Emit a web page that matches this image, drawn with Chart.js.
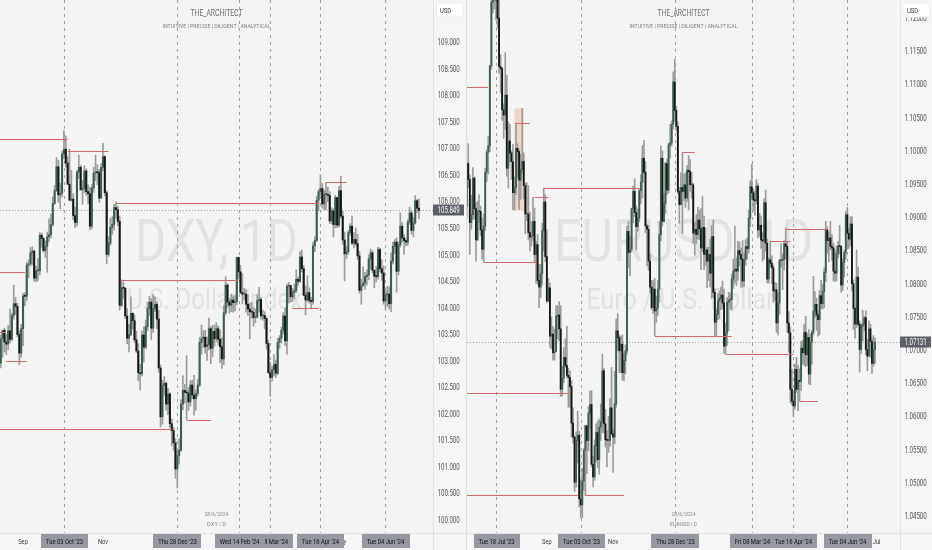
<!DOCTYPE html>
<html><head><meta charset="utf-8">
<script src="https://cdn.jsdelivr.net/npm/chart.js@4.4.1/dist/chart.umd.min.js"></script>
<style>
html,body{margin:0;padding:0;background:#f4f4f4;overflow:hidden}
#wrap{position:relative;width:932px;height:550px}
canvas{position:absolute;top:0}
#c1{left:0}#c2{left:466px}
</style></head><body>
<div id="wrap"><canvas id="c1" width="466" height="550" style="width:466px;height:550px"></canvas><canvas id="c2" width="466" height="550" style="width:466px;height:550px"></canvas></div>
<script>
// ===== DXY daily (first bar 2023-08-16) =====
const dxyStart = '2023-08-16';
const dxyOpen = [102.97,103.43,103.59,
103.37,103.33,103.58,103.42,103.87, 104.09,104.04,103.51,103.16,103.62, 104.24,104.23,104.82,104.84,105.05,
105.08,104.57,104.71,104.71,105.38, 105.32,105.09,105.17,105.35,105.39, 105.58,105.98,106.22,106.67,106.14,
106.17,106.91,107.00,106.74,106.34, 106.04,106.06,105.75,105.62,106.57, 106.66,106.24,106.26,106.59,106.20,
106.16,105.55,106.27,106.55,106.57, 106.56,106.08,106.66,106.86,106.18, 105.02,105.23,105.53,105.58,105.90,
105.86,105.64,104.06,104.39,104.38, 103.86,103.44,103.51,103.91,103.77, 103.41,103.20,102.79,102.77,103.50,
103.27,103.66,104.00,104.12,103.63, 104.00,104.08,103.80,102.88,101.96, 102.55,102.59,102.20,102.39,101.83,
101.70,101.47,100.98,101.23, 101.33,102.20,102.46,102.42,
102.41,102.24,102.56,102.37,102.30, 102.40,102.56,103.36,103.43,103.46, 103.28,103.32,103.62,103.25,103.57,
103.43,103.62,103.42,103.28,103.05, 103.92,104.44,104.12,104.06,104.16, 104.11,104.13,104.96,104.69,104.30,
104.27,104.27,104.08,103.99,103.94, 103.93,103.83,103.84,104.15,104.17, 103.86,103.87,103.81,103.34,102.79,
102.70,102.85,102.95,102.78,103.36, 103.44,103.59,103.86,103.39,104.42, 104.43,104.22,104.31,104.34,104.55,
104.51,104.97,104.75,104.25,104.16, 104.30,104.15,104.13,105.18,105.28, 106.04,106.20,106.26,105.97,106.15,
106.15,106.13,105.65,105.84,105.58, 106.09,105.57,106.22,105.74,105.29, 105.03,105.07,105.43,105.55,105.23,
105.30,105.22,104.99,104.34,104.43, 104.48,104.60,104.63,104.93,105.05, 104.72,104.61,104.60,105.11,104.75,
104.67,104.14,104.26,104.27,104.09, 104.89,105.17,105.25,104.70,105.20, 105.55,105.33,105.28,105.25,105.63,
105.80,105.47,105.61,106.03,105.89];
const dxyHigh = [103.50,103.59,103.63,
103.51,103.68,103.99,103.91,104.44, 104.21,104.10,103.58,103.70,104.29, 104.30,104.87,104.92,105.15,105.16,
105.10,104.80,104.94,105.43,105.42, 105.34,105.28,105.44,105.69,105.78, 106.10,106.32,106.84,106.79,106.36,
106.96,107.35,107.25,106.86,107.00, 106.60,106.16,105.91,106.60,106.89, 106.70,106.41,106.69,106.63,106.33,
106.28,106.33,106.66,106.89,106.71, 106.62,106.73,107.11,106.88,106.22, 105.35,105.70,105.73,105.96,106.01,
105.93,105.74,104.54,104.50,104.40, 104.00,103.70,104.22,103.92,103.88, 103.57,103.34,102.95,103.58,103.65,
103.78,104.12,104.23,104.19,104.26, 104.22,104.13,103.97,102.94,102.65, 102.72,102.62,102.49,102.41,101.92,
101.76,101.55,101.33,101.55, 102.28,102.73,102.57,103.11,
102.51,102.64,102.65,102.74,102.47, 102.67,103.46,103.69,103.58,103.59, 103.46,103.82,103.66,103.68,103.69,
103.73,103.67,103.60,103.45,104.06, 104.60,104.47,104.19,104.27,104.24, 104.24,104.97,104.97,104.81,104.66,
104.38,104.35,104.26,104.10,104.12, 104.02,103.99,104.26,104.40,104.21, 103.97,103.94,103.84,103.40,102.98,
102.91,103.13,103.03,103.44,103.49, 103.65,103.92,104.01,104.46,104.49, 104.44,104.38,104.46,104.73,104.59,
105.07,105.10,104.81,104.42,104.62, 104.39,104.21,105.24,105.35,106.11, 106.24,106.52,106.36,106.23,106.37,
106.28,106.20,105.90,105.88,106.13, 106.09,106.30,106.49,105.83,105.44, 105.17,105.47,105.60,105.74,105.43,
105.52,105.40,105.08,104.55,104.78, 104.68,104.73,105.01,105.12,105.09, 104.73,104.79,105.15,105.14,104.92,
104.80,104.34,104.42,104.41,105.05, 105.25,105.30,105.33,105.25,105.80, 105.62,105.39,105.31,105.67,105.91,
105.85,105.72,106.13,106.05,106.06];
const dxyLow = [102.88,103.08,103.18,
103.13,103.23,103.35,103.40,103.80, 103.89,103.47,102.94,103.08,103.30, 104.05,104.15,104.58,104.80,104.82,
104.51,104.50,104.52,104.63,105.15, 105.06,104.96,104.68,105.26,105.33, 105.55,105.96,106.20,106.00,105.88,
106.10,106.82,106.66,106.34,106.03, 106.02,105.67,105.52,105.55,106.45, 106.22,105.96,106.18,106.13,105.97,
105.48,105.50,106.19,106.41,106.33, 106.00,106.07,106.59,106.12,104.84, 104.98,105.19,105.40,105.48,105.70,
105.56,103.97,104.03,104.19,103.81, 103.34,103.18,103.49,103.61,103.36, 103.17,102.64,102.46,102.73,102.99,
103.24,103.58,103.86,103.41,103.55, 103.94,103.62,102.80,101.77,101.82, 102.36,102.08,102.00,101.76,101.42,
101.33,100.80,100.62,101.07, 101.31,102.09,102.22,101.91,
102.08,102.16,102.30,101.99,102.08, 102.35,102.53,103.14,103.26,103.16, 103.02,103.22,102.96,103.09,103.29,
103.37,103.31,102.98,102.87,102.94, 103.88,104.02,103.91,103.94,103.93, 103.95,104.07,104.56,104.28,104.09,
104.16,103.93,103.87,103.43,103.81, 103.67,103.73,103.82,103.93,103.80, 103.78,103.62,103.23,102.78,102.35,
102.63,102.73,102.70,102.75,103.25, 103.35,103.52,103.30,103.14,104.10, 104.12,104.13,104.18,104.30,104.44,
104.49,104.69,104.24,103.88,104.13, 104.10,103.99,104.08,105.07,105.26, 105.84,106.13,105.89,105.86,105.86,
106.01,105.60,105.60,105.35,105.52, 105.52,105.54,105.70,105.21,104.52, 104.94,105.02,105.38,105.20,105.14,
105.18,104.92,104.29,104.08,104.42, 104.36,104.44,104.54,104.74,104.67, 104.39,104.50,104.55,104.70,104.53,
104.08,103.99,104.04,103.99,103.94, 104.84,105.03,104.31,104.63,105.16, 105.25,105.02,105.18,105.19,105.58,
105.40,105.35,105.59,105.81,105.69];
const dxyClose = [103.43,103.59,103.37,
103.33,103.58,103.42,103.87,104.09, 104.04,103.51,103.16,103.62,104.24, 104.23,104.82,104.84,105.05,105.08,
104.57,104.71,104.71,105.38,105.32, 105.09,105.17,105.35,105.39,105.58, 105.98,106.22,106.67,106.14,106.17,
106.91,107.00,106.74,106.34,106.04, 106.06,105.75,105.62,106.57,106.66, 106.24,106.26,106.59,106.20,106.16,
105.55,106.27,106.55,106.57,106.56, 106.08,106.66,106.86,106.18,105.02, 105.23,105.53,105.58,105.90,105.86,
105.64,104.06,104.39,104.38,103.86, 103.44,103.51,103.91,103.77,103.41, 103.20,102.79,102.77,103.50,103.27,
103.66,104.00,104.12,103.63,104.00, 104.08,103.80,102.88,101.96,102.55, 102.59,102.20,102.39,101.83,101.70,
101.47,100.98,101.23,101.33, 102.20,102.46,102.42,102.41,
102.24,102.56,102.37,102.30,102.40, 102.56,103.36,103.43,103.46,103.28, 103.32,103.62,103.25,103.57,103.43,
103.62,103.42,103.28,103.05,103.92, 104.44,104.12,104.06,104.16,104.11, 104.13,104.96,104.69,104.30,104.27,
104.27,104.08,103.99,103.94,103.93, 103.83,103.84,104.15,104.17,103.86, 103.87,103.81,103.34,102.79,102.70,
102.85,102.95,102.78,103.36,103.44, 103.59,103.86,103.39,104.42,104.43, 104.22,104.31,104.34,104.55,104.51,
104.97,104.75,104.25,104.16,104.30, 104.15,104.13,105.18,105.28,106.04, 106.20,106.26,105.97,106.15,106.15,
106.13,105.65,105.84,105.58,106.09, 105.57,106.22,105.74,105.29,105.03, 105.07,105.43,105.55,105.23,105.30,
105.22,104.99,104.34,104.43,104.48, 104.60,104.63,104.93,105.05,104.72, 104.61,104.60,105.11,104.75,104.67,
104.14,104.26,104.27,104.09,104.89, 105.17,105.25,104.70,105.20,105.55, 105.33,105.28,105.25,105.63,105.80,
105.47,105.61,106.03,105.89,105.849];
const dxyTicks = [100.0,100.5,101.0,101.5,102.0,102.5,103.0,103.5,104.0,104.5,105.0,105.5,106.0,106.5,107.0,107.5,108.0,108.5,109.0];
const dxyLevels = [[null,'2023-10-05',107.19],['2023-10-05','2023-11-06',106.97],['2023-11-10','2024-04-15',105.99],
['2024-04-19','2024-05-06',106.38],[null,'2023-09-04',104.69],['2023-11-15','2024-02-14',104.54],['2023-08-21','2023-09-05',103.01],
[null,'2023-08-21',103.56],['2024-03-26','2024-04-15',104.00],[null,'2023-12-22',101.73],['2024-01-05','2024-01-24',101.90]];
const dxyMarkers = [['2023-10-03',"Tue 03 Oct '23"],['2023-12-28',"Thu 28 Dec '23"],['2024-03-08',"Fri 08 Mar '24"],
['2024-02-14',"Wed 14 Feb '24"],['2024-04-16',"Tue 16 Apr '24"],['2024-06-04',"Tue 04 Jun '24"]];
const dxyMonths = [['2023-09-01','Sep'],['2023-11-01','Nov'],['2024-05-01','May']];

// ===== EURUSD daily (first bar 2023-06-21) =====
const eurStart = '2023-06-21';
const eurOpen = [1.0918,1.0982,1.0958,
1.0893,1.0905,1.0960,1.0914,1.0867, 1.0910,1.0910,1.0882,1.0853,1.0888, 1.0969,1.0999,1.1009,1.1129,1.1225,
1.1229,1.1236,1.1228,1.1201,1.1128, 1.1125,1.1063,1.1055,1.1085,1.0975, 1.1016,1.0998,1.0985,1.0938,1.0946,
1.1005,1.1000,1.0957,1.0973,1.0985, 1.0949,1.0906,1.0906,1.0878,1.0871, 1.0873,1.0895,1.0845,1.0860,1.0806,
1.0796,1.0816,1.0881,1.0924,1.0842, 1.0775,1.0795,1.0722,1.0725,1.0697, 1.0699,1.0752,1.0754,1.0733,1.0642,
1.0659,1.0690,1.0678,1.0663,1.0660, 1.0646,1.0591,1.0570,1.0502,1.0565, 1.0573,1.0477,1.0468,1.0504,1.0550,
1.0587,1.0565,1.0606,1.0619,1.0529, 1.0510,1.0557,1.0577,1.0536,1.0585, 1.0593,1.0670,1.0590,1.0566,1.0565,
1.0565,1.0614,1.0575,1.0570,1.0620, 1.0730,1.0720,1.0700,1.0710,1.0667, 1.0685,1.0700,1.0880,1.0848,1.0853,
1.0914,1.0940,1.0908,1.0887,1.0900, 1.0941,1.0954,1.0990,1.0969,1.0888, 1.0883,1.0835,1.0796,1.0765,1.0793,
1.0760,1.0764,1.0793,1.0875,1.0990, 1.0895,1.0922,1.0982,1.0942,1.1010, 1.1013,1.1041,1.1105,1.1062,
1.1038,1.0940,1.0920,1.0946, 1.0940,1.0950,1.0930,1.0972,1.0970, 1.0950,1.0950,1.0877,1.0883,1.0875,
1.0897,1.0884,1.0855,1.0886,1.0845, 1.0852,1.0835,1.0845,1.0817,1.0872, 1.0788,1.0743,1.0755,1.0775,1.0779,
1.0784,1.0772,1.0707,1.0727,1.0773, 1.0776,1.0777,1.0808,1.0820,1.0823, 1.0820,1.0851,1.0845,1.0838,1.0805,
1.0838,1.0857,1.0854,1.0900,1.0947, 1.0938,1.0927,1.0926,1.0948,1.0882, 1.0889,1.0867,1.0865,1.0923,1.0862,
1.0808,1.0837,1.0832,1.0825,1.0790, 1.0792,1.0742,1.0772,1.0836,1.0836, 1.0838,1.0861,1.0857,1.0742,1.0727,
1.0642,1.0624,1.0617,1.0672,1.0642, 1.0655,1.0654,1.0704,1.0697,1.0728, 1.0694,1.0720,1.0665,1.0713,1.0728,
1.0760,1.0770,1.0754,1.0747,1.0783, 1.0771,1.0789,1.0818,1.0882,1.0866, 1.0870,1.0857,1.0855,1.0820,1.0817,
1.0847,1.0858,1.0857,1.0799,1.0833, 1.0848,1.0905,1.0877,1.0868,1.0891, 1.0801,1.0764,1.0740,1.0811,1.0740,
1.0702,1.0737,1.0740,1.0750,1.0702, 1.0692,1.0733,1.0714,1.0681,1.0702];
const eurHigh = [1.0985,1.1012,1.0965,
1.0934,1.0976,1.0962,1.0923,1.0925, 1.0935,1.0918,1.0900,1.0906,1.0975, 1.1003,1.1023,1.1130,1.1228,1.1244,
1.1249,1.1276,1.1231,1.1245,1.1146, 1.1127,1.1072,1.1149,1.1115,1.1045, 1.1041,1.1001,1.1011,1.0962,1.1043,
1.1012,1.1003,1.0996,1.1065,1.0998, 1.0953,1.0953,1.0949,1.0909,1.0894, 1.0931,1.0915,1.0865,1.0875,1.0830,
1.0830,1.0892,1.0945,1.0935,1.0882, 1.0809,1.0802,1.0751,1.0737,1.0733, 1.0768,1.0768,1.0774,1.0768,1.0677,
1.0705,1.0718,1.0737,1.0674,1.0670, 1.0655,1.0614,1.0572,1.0578,1.0609, 1.0579,1.0506,1.0523,1.0553,1.0588,
1.0588,1.0616,1.0639,1.0640,1.0541, 1.0566,1.0590,1.0594,1.0597,1.0620, 1.0695,1.0674,1.0612,1.0580,1.0601,
1.0628,1.0675,1.0582,1.0669,1.0748, 1.0756,1.0724,1.0722,1.0724,1.0696, 1.0709,1.0888,1.0895,1.0872,1.0915,
1.0948,1.0959,1.0918,1.0914,1.0944, 1.0965,1.1009,1.1017,1.0985,1.0891, 1.0889,1.0845,1.0806,1.0806,1.0809,
1.0782,1.0806,1.0895,1.1009,1.1001, 1.0937,1.0984,1.0989,1.1013,1.1041, 1.1046,1.1120,1.1139,1.1068,
1.1045,1.0946,1.0968,1.0998, 1.0966,1.0968,1.0979,1.0994,1.0988, 1.0969,1.0952,1.0893,1.0905,1.0916,
1.0912,1.0914,1.0933,1.0903,1.0885, 1.0856,1.0856,1.0868,1.0889,1.0897, 1.0793,1.0763,1.0786,1.0790,1.0796,
1.0805,1.0793,1.0741,1.0780,1.0788, 1.0787,1.0815,1.0838,1.0888,1.0840, 1.0865,1.0864,1.0855,1.0866,1.0848,
1.0867,1.0870,1.0912,1.0956,1.0981, 1.0944,1.0940,1.0958,1.0952,1.0907, 1.0903,1.0878,1.0929,1.0942,1.0868,
1.0840,1.0865,1.0843,1.0829,1.0803, 1.0802,1.0787,1.0838,1.0862,1.0846, 1.0866,1.0885,1.0865,1.0759,1.0736,
1.0672,1.0640,1.0680,1.0690,1.0678, 1.0673,1.0714,1.0716,1.0740,1.0752, 1.0726,1.0732,1.0725,1.0731,1.0812,
1.0789,1.0779,1.0760,1.0791,1.0806, 1.0800,1.0825,1.0895,1.0887,1.0879, 1.0895,1.0875,1.0862,1.0852,1.0858,
1.0865,1.0889,1.0859,1.0839,1.0852, 1.0910,1.0916,1.0884,1.0902,1.0902, 1.0807,1.0765,1.0852,1.0826,1.0745,
1.0741,1.0761,1.0752,1.0760,1.0717, 1.0745,1.0740,1.0719,1.0723,1.0719];
const eurLow = [1.0900,1.0945,1.0845,
1.0883,1.0898,1.0898,1.0835,1.0866, 1.0893,1.0873,1.0838,1.0833,1.0881, 1.0955,1.0966,1.1000,1.1124,1.1209,
1.1215,1.1198,1.1186,1.1118,1.1088, 1.1047,1.1020,1.1033,1.0963,1.0945, 1.0984,1.0958,1.0912,1.0912,1.0935,
1.0960,1.0913,1.0928,1.0968,1.0929, 1.0876,1.0896,1.0867,1.0850,1.0858, 1.0866,1.0834,1.0802,1.0800,1.0765,
1.0780,1.0800,1.0850,1.0834,1.0772, 1.0774,1.0705,1.0703,1.0686,1.0686, 1.0699,1.0718,1.0715,1.0631,1.0632,
1.0652,1.0675,1.0659,1.0615,1.0615, 1.0570,1.0561,1.0488,1.0495,1.0531, 1.0465,1.0448,1.0449,1.0490,1.0482,
1.0515,1.0549,1.0583,1.0525,1.0495, 1.0505,1.0533,1.0524,1.0514,1.0565, 1.0577,1.0576,1.0555,1.0525,1.0547,
1.0556,1.0573,1.0517,1.0560,1.0615, 1.0700,1.0667,1.0667,1.0656,1.0655, 1.0665,1.0695,1.0825,1.0813,1.0849,
1.0893,1.0902,1.0852,1.0880,1.0894, 1.0922,1.0930,1.0966,1.0878,1.0828, 1.0821,1.0787,1.0762,1.0756,1.0723,
1.0743,1.0753,1.0773,1.0866,1.0888, 1.0894,1.0907,1.0935,1.0938,1.0990, 1.1008,1.1034,1.1046,1.1031,
1.0937,1.0892,1.0920,1.0877, 1.0926,1.0916,1.0925,1.0912,1.0940, 1.0930,1.0862,1.0844,1.0862,1.0868,
1.0867,1.0822,1.0849,1.0822,1.0828, 1.0795,1.0806,1.0796,1.0779,1.0780, 1.0723,1.0722,1.0747,1.0748,1.0762,
1.0763,1.0696,1.0695,1.0709,1.0730, 1.0763,1.0761,1.0794,1.0802,1.0798, 1.0806,1.0828,1.0796,1.0796,1.0797,
1.0829,1.0838,1.0847,1.0887,1.0928, 1.0911,1.0904,1.0921,1.0870,1.0872, 1.0854,1.0835,1.0838,1.0850,1.0802,
1.0802,1.0826,1.0801,1.0773,1.0776, 1.0728,1.0724,1.0755,1.0826,1.0792, 1.0822,1.0838,1.0728,1.0698,1.0622,
1.0619,1.0601,1.0612,1.0637,1.0610, 1.0624,1.0640,1.0680,1.0678,1.0676, 1.0678,1.0650,1.0649,1.0680,1.0724,
1.0750,1.0731,1.0722,1.0724,1.0763, 1.0763,1.0765,1.0804,1.0847,1.0834, 1.0852,1.0836,1.0805,1.0805,1.0805,
1.0840,1.0845,1.0788,1.0791,1.0811, 1.0838,1.0853,1.0854,1.0858,1.0790, 1.0732,1.0719,1.0735,1.0738,1.0668,
1.0696,1.0715,1.0730,1.0694,1.0670, 1.0692,1.0690,1.0666,1.0677,1.0681];
const eurClose = [1.0982,1.0958,1.0893,
1.0905,1.0960,1.0914,1.0867,1.0910, 1.0910,1.0882,1.0853,1.0888,1.0969, 1.0999,1.1009,1.1129,1.1225,1.1229,
1.1236,1.1228,1.1201,1.1128,1.1125, 1.1063,1.1055,1.1085,1.0975,1.1016, 1.0998,1.0985,1.0938,1.0946,1.1005,
1.1000,1.0957,1.0973,1.0985,1.0949, 1.0906,1.0906,1.0878,1.0871,1.0873, 1.0895,1.0845,1.0860,1.0806,1.0796,
1.0816,1.0881,1.0924,1.0842,1.0775, 1.0795,1.0722,1.0725,1.0697,1.0699, 1.0752,1.0754,1.0733,1.0642,1.0659,
1.0690,1.0678,1.0663,1.0660,1.0646, 1.0591,1.0570,1.0502,1.0565,1.0573, 1.0477,1.0468,1.0504,1.0550,1.0587,
1.0565,1.0606,1.0619,1.0529,1.0510, 1.0557,1.0577,1.0536,1.0585,1.0593, 1.0670,1.0590,1.0566,1.0565,1.0565,
1.0614,1.0575,1.0570,1.0620,1.0730, 1.0720,1.0700,1.0710,1.0667,1.0685, 1.0700,1.0880,1.0848,1.0853,1.0914,
1.0940,1.0908,1.0887,1.0900,1.0941, 1.0954,1.0990,1.0969,1.0888,1.0883, 1.0835,1.0796,1.0765,1.0793,1.0760,
1.0764,1.0793,1.0875,1.0990,1.0895, 1.0922,1.0982,1.0942,1.1010,1.1013, 1.1041,1.1105,1.1062,1.1038,
1.0940,1.0920,1.0946,1.0940, 1.0950,1.0930,1.0972,1.0970,1.0950, 1.0950,1.0877,1.0883,1.0875,1.0897,
1.0884,1.0855,1.0886,1.0845,1.0852, 1.0835,1.0845,1.0817,1.0872,1.0788, 1.0743,1.0755,1.0775,1.0779,1.0784,
1.0772,1.0707,1.0727,1.0773,1.0776, 1.0777,1.0808,1.0820,1.0823,1.0820, 1.0851,1.0845,1.0838,1.0805,1.0838,
1.0857,1.0854,1.0900,1.0947,1.0938, 1.0927,1.0926,1.0948,1.0882,1.0889, 1.0867,1.0865,1.0923,1.0862,1.0808,
1.0837,1.0832,1.0825,1.0790,1.0792, 1.0742,1.0772,1.0836,1.0836,1.0838, 1.0861,1.0857,1.0742,1.0727,1.0642,
1.0624,1.0617,1.0672,1.0642,1.0655, 1.0654,1.0704,1.0697,1.0728,1.0694, 1.0720,1.0665,1.0713,1.0728,1.0760,
1.0770,1.0754,1.0747,1.0783,1.0771, 1.0789,1.0818,1.0882,1.0866,1.0870, 1.0857,1.0855,1.0820,1.0817,1.0847,
1.0858,1.0857,1.0799,1.0833,1.0848, 1.0905,1.0877,1.0868,1.0891,1.0801, 1.0764,1.0740,1.0811,1.0740,1.0702,
1.0737,1.0740,1.0750,1.0702,1.0692, 1.0733,1.0714,1.0681,1.0702,1.07131];
const eurTicks = [1.045,1.050,1.055,1.060,1.065,1.070,1.075,1.080,1.085,1.090,1.095,1.100,1.105,1.110,1.115,1.120];
const eurLevels = [[null,'2023-07-11',1.1097],['2023-07-06','2023-08-23',1.0834],['2023-08-04','2023-08-17',1.1043],
['2023-08-22','2023-09-04',1.0932],['2023-08-30','2023-11-24',1.0945],['2024-01-05','2024-01-17',1.0999],
['2024-03-26','2024-04-12',1.0865],['2024-04-09','2024-05-15',1.0883],['2023-12-08','2024-02-20',1.0723],
['2024-02-14','2024-04-16',1.0695],[null,'2023-09-21',1.0636],[null,'2023-09-29',1.0483],
['2023-10-06','2023-11-10',1.0483],['2024-04-22','2024-05-08',1.0625]];
const eurZone = ['2023-08-03','2023-08-11',1.1065,1.0911];
const eurMarkers = [['2023-07-18',"Tue 18 Jul '23"],['2023-10-03',"Tue 03 Oct '23"],['2023-12-28',"Thu 28 Dec '23"],
['2024-03-08',"Fri 08 Mar '24"],['2024-04-16',"Tue 16 Apr '24"],['2024-06-04',"Tue 04 Jun '24"]];
const eurMonths = [['2023-09-01','Sep'],['2023-11-01','Nov'],['2024-07-01','Jul']];

// ===== helpers =====
function tradingDays(start, n) {
  const out = []; const d = new Date(start + 'T00:00:00Z');
  while (out.length < n) {
    const wd = d.getUTCDay(); const iso = d.toISOString().slice(0, 10); const md = iso.slice(5);
    if (wd !== 0 && wd !== 6 && md !== '12-25' && md !== '01-01') out.push(iso);
    d.setUTCDate(d.getUTCDate() + 1);
  }
  return out;
}
const FONT = 'Roboto, "Noto Sans", "DejaVu Sans", sans-serif';
function measure(ctx, s, o) {
  ctx.save(); ctx.font = `${o.weight || 400} ${o.size}px ${FONT}`;
  const w = ctx.measureText(s).width; ctx.restore();
  const sx = o.w ? o.w / w : (o.sx || 0.74);
  return {w: w * sx, sx};
}
function txt(ctx, s, x, y, o) {
  const m = measure(ctx, s, o);
  ctx.save();
  ctx.font = `${o.weight || 400} ${o.size}px ${FONT}`;
  ctx.fillStyle = o.color; ctx.textBaseline = o.base || 'middle'; ctx.textAlign = 'left';
  const left = o.align === 'left' ? x : (o.align === 'right' ? x - m.w : x - m.w / 2);
  ctx.translate(left, y); ctx.scale(m.sx, 1); ctx.fillText(s, 0, 0);
  ctx.restore();
  return m.w;
}

const BG = '#f4f4f4', AXBG = '#f6f6f6', SEP = '#e2e2e2';
const UP = '#3b5f4a', DOWN = '#161616', WICK = '#9b9b9b';

function makePanel(canvas, p) {
  const n = Math.min(p.open.length, p.high.length, p.low.length, p.close.length);
  const dates = tradingDays(p.start, n + 10);
  const idx = d => dates.indexOf(d);
  const ids = Array.from({length: n}, (_, i) => i);
  const last = p.close[n - 1];

  const plugin = {
    id: 'tvpanel',
    beforeDraw(chart) {
      const ctx = chart.ctx;
      ctx.save(); ctx.fillStyle = BG; ctx.fillRect(0, 0, chart.width, chart.height); ctx.restore();
    },
    beforeDatasetsDraw(chart) {
      const ctx = chart.ctx, ca = chart.chartArea, xS = chart.scales.x, yS = chart.scales.y;
      const cx = (ca.left + ca.right) / 2;
      // watermark
      txt(ctx, p.wm1, cx + p.wm1dx, 261, {size: 60, color: '#e1e2e6', w: p.wm1w, base: 'alphabetic'});
      txt(ctx, p.wm2, cx + p.wm2dx, 309, {size: 29, color: '#e1e2e6', w: p.wm2w, base: 'alphabetic'});
      // header / footer text
      txt(ctx, 'THE_ARCHITECT', cx, 15.5, {size: 9, color: '#6e6e6e', w: 52, base: 'alphabetic'});
      txt(ctx, 'INTUITIVE | PRECISE | DILIGENT | ANALYTICAL', cx, 27.5, {size: 6.2, color: '#7c7c7c', w: 108, base: 'alphabetic'});
      txt(ctx, '28/6/2024', cx, 515.5, {size: 6.2, color: '#8a8a8a', w: 24, base: 'alphabetic'});
      txt(ctx, p.foot, cx, 525.5, {size: 6.2, color: '#8a8a8a', w: p.footw, base: 'alphabetic'});
      ctx.save();
      ctx.beginPath(); ctx.rect(ca.left, ca.top, ca.right - ca.left, ca.bottom - ca.top); ctx.clip();
      // zone
      if (p.zone) {
        const x1 = xS.getPixelForValue(idx(p.zone[0])), x2 = xS.getPixelForValue(idx(p.zone[1]));
        const y1 = yS.getPixelForValue(p.zone[2]), y2 = yS.getPixelForValue(p.zone[3]);
        ctx.fillStyle = 'rgba(232,170,130,0.42)'; ctx.fillRect(x1, y1, x2 - x1, y2 - y1);
      }
      // vertical date markers
      ctx.strokeStyle = '#a3a3a3'; ctx.lineWidth = 1; ctx.setLineDash([3, 4]);
      p.markers.forEach(m => {
        const x = Math.round(xS.getPixelForValue(idx(m[0]))) + 0.5;
        ctx.beginPath(); ctx.moveTo(x, ca.top); ctx.lineTo(x, ca.bottom); ctx.stroke();
      });
      // last price line
      ctx.strokeStyle = '#a0a0a0'; ctx.setLineDash([1, 2]);
      const yl = Math.round(yS.getPixelForValue(last)) + 0.5;
      ctx.beginPath(); ctx.moveTo(ca.left, yl); ctx.lineTo(ca.right, yl); ctx.stroke();
      ctx.restore();
    },
    afterDatasetsDraw(chart) {
      const ctx = chart.ctx, ca = chart.chartArea, xS = chart.scales.x, yS = chart.scales.y;
      ctx.save();
      ctx.beginPath(); ctx.rect(ca.left, ca.top, ca.right - ca.left, ca.bottom - ca.top); ctx.clip();
      ctx.strokeStyle = '#d36a6a'; ctx.lineWidth = 1;
      p.levels.forEach(l => {
        const x1 = l[0] ? xS.getPixelForValue(idx(l[0])) : ca.left;
        const x2 = xS.getPixelForValue(idx(l[1]));
        const y = Math.round(yS.getPixelForValue(l[2])) + 0.5;
        ctx.beginPath(); ctx.moveTo(x1, y); ctx.lineTo(x2, y); ctx.stroke();
      });
      ctx.restore();
    },
    afterDraw(chart) {
      const ctx = chart.ctx, ca = chart.chartArea, xS = chart.scales.x, yS = chart.scales.y;
      const W = chart.width, H = chart.height;
      ctx.save();
      ctx.fillStyle = AXBG;
      ctx.fillRect(ca.right, 0, W - ca.right, H);
      ctx.fillRect(0, ca.bottom, ca.right, H - ca.bottom);
      ctx.strokeStyle = SEP; ctx.lineWidth = 1;
      ctx.beginPath(); ctx.moveTo(ca.right + 0.5, 0); ctx.lineTo(ca.right + 0.5, H); ctx.stroke();
      ctx.beginPath(); ctx.moveTo(0, ca.bottom + 0.5); ctx.lineTo(W, ca.bottom + 0.5); ctx.stroke();
      if (p.leftSep) {
        ctx.strokeStyle = '#dedede';
        ctx.beginPath(); ctx.moveTo(0.5, 0); ctx.lineTo(0.5, H); ctx.stroke();
      }
      ctx.restore();
      // y labels
      p.ticks.forEach(v => {
        const y = yS.getPixelForValue(v);
        txt(ctx, v.toFixed(p.dec), ca.right + 4.5, y, {size: 8.5, color: '#505050', sx: 0.72, align: 'left'});
      });
      // USD box
      ctx.save();
      ctx.fillStyle = '#ffffff'; ctx.strokeStyle = '#ececec';
      ctx.beginPath(); ctx.roundRect(ca.right + 3, 3, 27, 14, 2); ctx.fill(); ctx.stroke();
      ctx.restore();
      txt(ctx, 'USD', ca.right + 7, 10.5, {size: 8, color: '#333333', sx: 0.74, align: 'left'});
      // last price label
      const yl = Math.round(yS.getPixelForValue(last));
      ctx.save(); ctx.fillStyle = '#5e6068';
      ctx.fillRect(ca.right, yl - 5.5, 31, 11); ctx.restore();
      txt(ctx, last.toFixed(p.dec), ca.right + 4.5, yl + 0.5, {size: 8.5, color: '#ffffff', sx: 0.72, align: 'left'});
      // month labels
      p.months.forEach(m => {
        const x = xS.getPixelForValue(idx(m[0]));
        txt(ctx, m[1], x, 541.5, {size: 8, color: '#3a3a3a', sx: 0.72});
      });
      // date boxes
      p.markers.forEach(m => {
        const x = Math.round(xS.getPixelForValue(idx(m[0]))) + 0.5;
        const mm = measure(ctx, m[1], {size: 8, sx: 0.73});
        const bw = mm.w + 10;
        ctx.save(); ctx.fillStyle = '#9598a0';
        ctx.fillRect(Math.round(x - bw / 2), 534, Math.round(bw), 14); ctx.restore();
        txt(ctx, m[1], x, 541.5, {size: 8, color: '#111111', sx: 0.73});
      });
    }
  };

  return new Chart(canvas, {
    type: 'bar',
    data: {
      datasets: [
        {
          label: p.name + ' wick',
          data: ids.map(i => ({x: i, y: [p.low[i], p.high[i]]})),
          backgroundColor: WICK, borderWidth: 0, barThickness: p.wick, grouped: false, order: 2
        },
        {
          label: p.name + ' body',
          data: ids.map(i => ({x: i, y: [Math.min(p.open[i], p.close[i]), Math.max(p.open[i], p.close[i])]})),
          backgroundColor: ids.map(i => p.close[i] >= p.open[i] ? UP : DOWN),
          borderWidth: 0, barThickness: p.body, grouped: false, order: 1, minBarLength: 1
        }
      ]
    },
    options: {
      responsive: false, animation: false, devicePixelRatio: 1,
      layout: {padding: p.pad},
      plugins: {legend: {display: false}, tooltip: {enabled: false}},
      events: [],
      scales: {
        x: {type: 'linear', min: p.xmin, max: p.xmax, display: false, offset: false, grid: {display: false}},
        y: {type: 'linear', min: p.ymin, max: p.ymax, display: false, grid: {display: false}}
      }
    },
    plugins: [plugin]
  });
}

makePanel(document.getElementById('c1'), {
  name: 'DXY', start: dxyStart, open: dxyOpen, high: dxyHigh, low: dxyLow, close: dxyClose,
  ticks: dxyTicks, dec: 3, levels: dxyLevels, markers: dxyMarkers, months: dxyMonths, zone: null,
  wm1: 'DXY, 1D', wm1w: 163, wm1dx: 0, wm2: 'U.S. Dollar Index', wm2w: 175, wm2dx: -2,
  foot: 'DXY | D', footw: 19,
  pad: {left: 0, right: 33, top: 0, bottom: 17},
  xmin: -0.4, xmax: 232.57, ymin: 99.7721, ymax: 109.8098, body: 1.4, wick: 1, leftSep: false
});
makePanel(document.getElementById('c2'), {
  name: 'EURUSD', start: eurStart, open: eurOpen, high: eurHigh, low: eurLow, close: eurClose,
  ticks: eurTicks, dec: 5, levels: eurLevels, markers: eurMarkers, months: eurMonths, zone: eurZone,
  wm1: 'EURUSD, 1D', wm1w: 259, wm1dx: 0, wm2: 'Euro / U.S. Dollar', wm2w: 188, wm2dx: -3,
  foot: 'EURUSD | D', footw: 27,
  pad: {left: 1, right: 32, top: 0, bottom: 17},
  xmin: 0.18, xmax: 281.18, ymin: 1.04256, ymax: 1.122831, body: 1.2, wick: 1, leftSep: true
});
</script>
</body></html>
